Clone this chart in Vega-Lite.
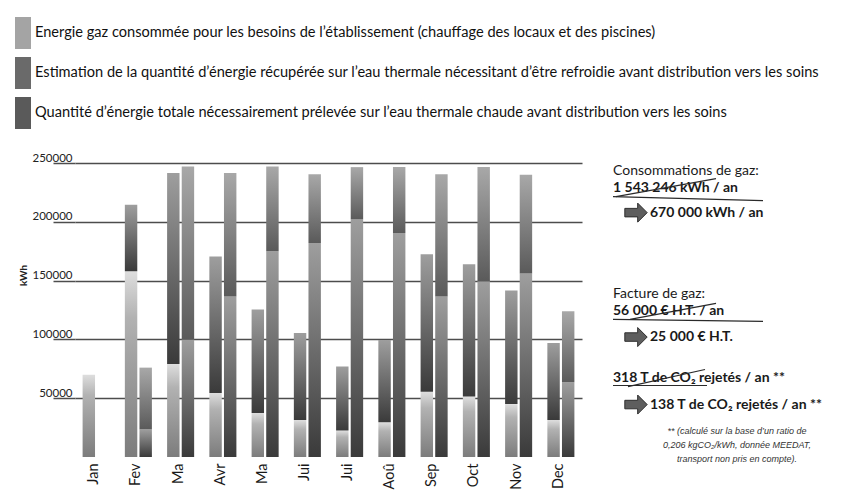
{
  "$schema": "https://vega.github.io/schema/vega-lite/v6.json",
  "width": 507,
  "height": 294,
  "autosize": {"type": "none"},
  "padding": {"left": 75, "top": 163, "right": 277, "bottom": 39},
  "background": "white",
  "config": {
    "view": {"stroke": null},
    "font": "Lato",
    "legend": {
      "orient": "none",
      "legendX": -68,
      "legendY": -146,
      "padding": 0
    }
  },
  "datasets": {
    "energie": [
      {"mois": "01", "colonne": "A", "serie": "gaz", "kWh": 70000},
      {"mois": "02", "colonne": "A", "serie": "gaz", "kWh": 158000},
      {"mois": "02", "colonne": "A", "serie": "recup", "kWh": 56500},
      {"mois": "02", "colonne": "B", "serie": "recup", "kWh": 23500},
      {"mois": "02", "colonne": "B", "serie": "total", "kWh": 52500},
      {"mois": "03", "colonne": "A", "serie": "gaz", "kWh": 79000},
      {"mois": "03", "colonne": "A", "serie": "recup", "kWh": 162500},
      {"mois": "03", "colonne": "B", "serie": "recup", "kWh": 100000},
      {"mois": "03", "colonne": "B", "serie": "total", "kWh": 147000},
      {"mois": "04", "colonne": "A", "serie": "gaz", "kWh": 54500},
      {"mois": "04", "colonne": "A", "serie": "recup", "kWh": 116000},
      {"mois": "04", "colonne": "B", "serie": "recup", "kWh": 136500},
      {"mois": "04", "colonne": "B", "serie": "total", "kWh": 105000},
      {"mois": "05", "colonne": "A", "serie": "gaz", "kWh": 37500},
      {"mois": "05", "colonne": "A", "serie": "recup", "kWh": 88000},
      {"mois": "05", "colonne": "B", "serie": "recup", "kWh": 175000},
      {"mois": "05", "colonne": "B", "serie": "total", "kWh": 72000},
      {"mois": "06", "colonne": "A", "serie": "gaz", "kWh": 31500},
      {"mois": "06", "colonne": "A", "serie": "recup", "kWh": 74000},
      {"mois": "06", "colonne": "B", "serie": "recup", "kWh": 182000},
      {"mois": "06", "colonne": "B", "serie": "total", "kWh": 58500},
      {"mois": "07", "colonne": "A", "serie": "gaz", "kWh": 22500},
      {"mois": "07", "colonne": "A", "serie": "recup", "kWh": 54500},
      {"mois": "07", "colonne": "B", "serie": "recup", "kWh": 202000},
      {"mois": "07", "colonne": "B", "serie": "total", "kWh": 44500},
      {"mois": "08", "colonne": "A", "serie": "gaz", "kWh": 29500},
      {"mois": "08", "colonne": "A", "serie": "recup", "kWh": 70000},
      {"mois": "08", "colonne": "B", "serie": "recup", "kWh": 190500},
      {"mois": "08", "colonne": "B", "serie": "total", "kWh": 56000},
      {"mois": "09", "colonne": "A", "serie": "gaz", "kWh": 55500},
      {"mois": "09", "colonne": "A", "serie": "recup", "kWh": 117000},
      {"mois": "09", "colonne": "B", "serie": "recup", "kWh": 136500},
      {"mois": "09", "colonne": "B", "serie": "total", "kWh": 104000},
      {"mois": "10", "colonne": "A", "serie": "gaz", "kWh": 51500},
      {"mois": "10", "colonne": "A", "serie": "recup", "kWh": 112500},
      {"mois": "10", "colonne": "B", "serie": "recup", "kWh": 149500},
      {"mois": "10", "colonne": "B", "serie": "total", "kWh": 97000},
      {"mois": "11", "colonne": "A", "serie": "gaz", "kWh": 45000},
      {"mois": "11", "colonne": "A", "serie": "recup", "kWh": 96500},
      {"mois": "11", "colonne": "B", "serie": "recup", "kWh": 156000},
      {"mois": "11", "colonne": "B", "serie": "total", "kWh": 84000},
      {"mois": "12", "colonne": "A", "serie": "gaz", "kWh": 31500},
      {"mois": "12", "colonne": "A", "serie": "recup", "kWh": 65500},
      {"mois": "12", "colonne": "B", "serie": "recup", "kWh": 63500},
      {"mois": "12", "colonne": "B", "serie": "total", "kWh": 60500}
    ]
  },
  "layer": [
    {
      "data": {"name": "energie"},
      "transform": [
        {"stack": "kWh", "groupby": ["mois", "colonne"], "sort": [{"field": "serie", "order": "ascending"}], "as": ["bas", "haut"]}
      ],
      "encoding": {
        "x": {
          "field": "mois",
          "type": "nominal",
          "scale": {"paddingInner": 0.36, "paddingOuter": 0.18},
          "axis": {
            "title": null,
            "labelAngle": -90,
            "labelExpr": "['Jan','Fev','Ma','Avr','Ma','Jui','Jui','Aoû','Sep','Oct','Nov','Dec'][toNumber(datum.value) - 1]",
            "labelFont": "Lato",
            "labelFontSize": 14.5,
            "labelColor": "#1a1a1a",
            "labelPadding": 6,
            "labelOffset": -2,
            "ticks": false,
            "domain": false
          }
        },
        "xOffset": {
          "field": "colonne",
          "type": "nominal",
          "scale": {"domain": ["A", "B"], "paddingInner": 0.15}
        },
        "y": {
          "field": "bas",
          "type": "quantitative",
          "scale": {"domain": [0, 250000], "nice": false},
          "axis": {
            "title": "kWh",
            "titleFont": "Lato",
            "titleFontSize": 10,
            "titleFontWeight": "bold",
            "titleColor": "#222222",
            "titleX": -52,
            "titleY": 112,
            "titleAngle": 270,
            "titleAlign": "center",
            "titleBaseline": "middle",
            "values": [50000, 100000, 150000, 200000, 250000],
            "format": "d",
            "grid": true,
            "gridColor": "#4d4d4d",
            "gridWidth": 1.5,
            "ticks": true,
            "tickSize": 22,
            "tickColor": "#4d4d4d",
            "tickWidth": 1.5,
            "domain": false,
            "labelFont": "Lato",
            "labelFontSize": 11.5,
            "labelColor": "#222222",
            "labelAlign": "right",
            "labelBaseline": "bottom",
            "labelPadding": -19
          }
        },
        "y2": {"field": "haut"}
      },
      "layer": [
        {
          "transform": [{"filter": "datum.serie === 'gaz'"}],
          "mark": {"type": "bar", "color": {"gradient": "linear", "x1": 0, "y1": 0, "x2": 0, "y2": 1,
            "stops": [{"offset": 0, "color": "#dedede"}, {"offset": 0.25, "color": "#b2b2b2"}, {"offset": 1, "color": "#7c7c7c"}]}}
        },
        {
          "transform": [{"filter": "datum.serie === 'recup'"}],
          "mark": {"type": "bar", "color": {"gradient": "linear", "x1": 0, "y1": 0, "x2": 0, "y2": 1,
            "stops": [{"offset": 0, "color": "#9e9e9e"}, {"offset": 1, "color": "#3a3a3a"}]}}
        },
        {
          "transform": [{"filter": "datum.serie === 'total'"}],
          "mark": {"type": "bar", "color": {"gradient": "linear", "x1": 0, "y1": 0, "x2": 0, "y2": 1,
            "stops": [{"offset": 0, "color": "#a8a8a8"}, {"offset": 1, "color": "#5a5a5a"}]}}
        },
        {
          "transform": [{"filter": "datum.kWh < 0"}],
          "mark": {"type": "bar"},
          "encoding": {
            "color": {
              "field": "serie",
              "type": "nominal",
              "scale": {"domain": ["gaz", "recup", "total"], "range": ["#a4a4a4", "#6a6a6a", "#5a5a5a"]},
              "legend": {
                "title": null,
                "direction": "vertical",
                "symbolType": "M-0.5,-1L0.5,-1L0.5,1L-0.5,1Z",
                "symbolSize": 1024,
                "symbolStrokeWidth": 0,
                "rowPadding": 8,
                "labelFont": "Lato",
                "labelFontSize": 14.6,
                "labelColor": "#111111",
                "labelLimit": 900,
                "labelOffset": -4,
                "labelExpr": "datum.label == 'gaz' ? 'Energie gaz consommée pour les besoins de l’établissement (chauffage des locaux et des piscines)' : datum.label == 'recup' ? 'Estimation de la quantité d’énergie récupérée sur l’eau thermale nécessitant d’être refroidie avant distribution vers les soins' : 'Quantité d’énergie totale nécessairement prélevée sur l’eau thermale chaude avant distribution vers les soins'"
              }
            }
          }
        }
      ]
    },
    {
      "data": {"values": [{}]},
      "mark": {"type": "text", "align": "left", "baseline": "middle", "dx": 31, "font": "Lato", "fontSize": 14, "color": "#1a1a1a"},
      "encoding": {"x": {"value": "width"}, "y": {"datum": 243500, "type": "quantitative"}, "text": {"value": "Consommations de gaz:"}}
    },
    {
      "data": {"values": [{}]},
      "mark": {"type": "text", "align": "left", "baseline": "middle", "dx": 31, "font": "Lato", "fontSize": 14, "fontWeight": "bold", "color": "#1a1a1a"},
      "encoding": {"x": {"value": "width"}, "y": {"datum": 229000, "type": "quantitative"}, "text": {"value": "1 543 246 kWh / an"}}
    },
    {
      "data": {"values": [{}]},
      "mark": {"type": "text", "align": "left", "baseline": "middle", "dx": 68, "font": "Lato", "fontSize": 14, "fontWeight": "bold", "color": "#1a1a1a"},
      "encoding": {"x": {"value": "width"}, "y": {"datum": 207800, "type": "quantitative"}, "text": {"value": "670 000 kWh / an"}}
    },
    {
      "data": {"values": [{}]},
      "mark": {"type": "text", "align": "left", "baseline": "middle", "dx": 31, "font": "Lato", "fontSize": 14, "color": "#1a1a1a"},
      "encoding": {"x": {"value": "width"}, "y": {"datum": 139000, "type": "quantitative"}, "text": {"value": "Facture de gaz:"}}
    },
    {
      "data": {"values": [{}]},
      "mark": {"type": "text", "align": "left", "baseline": "middle", "dx": 31, "font": "Lato", "fontSize": 14, "fontWeight": "bold", "color": "#1a1a1a"},
      "encoding": {"x": {"value": "width"}, "y": {"datum": 124000, "type": "quantitative"}, "text": {"value": "56 000 € H.T. / an"}}
    },
    {
      "data": {"values": [{}]},
      "mark": {"type": "text", "align": "left", "baseline": "middle", "dx": 68, "font": "Lato", "fontSize": 14, "fontWeight": "bold", "color": "#1a1a1a"},
      "encoding": {"x": {"value": "width"}, "y": {"datum": 102000, "type": "quantitative"}, "text": {"value": "25 000 € H.T."}}
    },
    {
      "data": {"values": [{}]},
      "mark": {"type": "text", "align": "left", "baseline": "middle", "dx": 31, "font": "Lato", "fontSize": 14, "fontWeight": "bold", "color": "#1a1a1a"},
      "encoding": {"x": {"value": "width"}, "y": {"datum": 67600, "type": "quantitative"}, "text": {"value": "318 T de CO₂ rejetés / an **"}}
    },
    {
      "data": {"values": [{}]},
      "mark": {"type": "text", "align": "left", "baseline": "middle", "dx": 68, "font": "Lato", "fontSize": 14, "fontWeight": "bold", "color": "#1a1a1a"},
      "encoding": {"x": {"value": "width"}, "y": {"datum": 44600, "type": "quantitative"}, "text": {"value": "138 T de CO₂ rejetés / an **"}}
    },
    {
      "data": {"values": [{}]},
      "mark": {"type": "text", "align": "center", "baseline": "top", "dx": 155, "font": "Liberation Sans", "fontSize": 9, "fontStyle": "italic", "lineHeight": 14, "color": "#333333"},
      "encoding": {"x": {"value": "width"}, "y": {"datum": 25500, "type": "quantitative"}, "text": {"value": ["** (calculé sur la base d’un ratio de", "0,206 kgCO₂/kWh, donnée MEEDAT,", "transport non pris en compte)."]}}
    },
    {
      "data": {"values": [{}]},
      "mark": {"type": "point", "shape": "M-1,-0.38L0.15,-0.38L0.15,-0.85L1,0L0.15,0.85L0.15,0.38L-1,0.38Z", "size": 500, "filled": true, "fill": "#5e5e5e", "stroke": "#2e2e2e", "strokeWidth": 1, "opacity": 1},
      "encoding": {"x": {"value": {"expr": "width + 54"}}, "y": {"datum": 207800, "type": "quantitative"}}
    },
    {
      "data": {"values": [{}]},
      "mark": {"type": "point", "shape": "M-1,-0.38L0.15,-0.38L0.15,-0.85L1,0L0.15,0.85L0.15,0.38L-1,0.38Z", "size": 500, "filled": true, "fill": "#5e5e5e", "stroke": "#2e2e2e", "strokeWidth": 1, "opacity": 1},
      "encoding": {"x": {"value": {"expr": "width + 54"}}, "y": {"datum": 102000, "type": "quantitative"}}
    },
    {
      "data": {"values": [{}]},
      "mark": {"type": "point", "shape": "M-1,-0.38L0.15,-0.38L0.15,-0.85L1,0L0.15,0.85L0.15,0.38L-1,0.38Z", "size": 500, "filled": true, "fill": "#5e5e5e", "stroke": "#2e2e2e", "strokeWidth": 1, "opacity": 1},
      "encoding": {"x": {"value": {"expr": "width + 54"}}, "y": {"datum": 44600, "type": "quantitative"}}
    },
    {
      "data": {"values": [{}]},
      "mark": {"type": "rule", "color": "#2a2a2a", "strokeWidth": 1.2},
      "encoding": {"x": {"value": {"expr": "width + 31"}}, "x2": {"value": {"expr": "width + 181"}}, "y": {"datum": 221400, "type": "quantitative"}, "y2": {"datum": 218000}}
    },
    {
      "data": {"values": [{}]},
      "mark": {"type": "rule", "color": "#2a2a2a", "strokeWidth": 1.2},
      "encoding": {"x": {"value": {"expr": "width + 34"}}, "x2": {"value": {"expr": "width + 134"}}, "y": {"datum": 221400, "type": "quantitative"}, "y2": {"datum": 236700}}
    },
    {
      "data": {"values": [{}]},
      "mark": {"type": "rule", "color": "#2a2a2a", "strokeWidth": 1.2},
      "encoding": {"x": {"value": {"expr": "width + 31"}}, "x2": {"value": {"expr": "width + 181"}}, "y": {"datum": 117000, "type": "quantitative"}, "y2": {"datum": 115400}}
    },
    {
      "data": {"values": [{}]},
      "mark": {"type": "rule", "color": "#2a2a2a", "strokeWidth": 1.2},
      "encoding": {"x": {"value": {"expr": "width + 48"}}, "x2": {"value": {"expr": "width + 134"}}, "y": {"datum": 117000, "type": "quantitative"}, "y2": {"datum": 130600}}
    },
    {
      "data": {"values": [{}]},
      "mark": {"type": "rule", "color": "#2a2a2a", "strokeWidth": 1.2},
      "encoding": {"x": {"value": {"expr": "width + 31"}}, "x2": {"value": {"expr": "width + 125"}}, "y": {"datum": 60800, "type": "quantitative"}, "y2": {"datum": 60800}}
    },
    {
      "data": {"values": [{}]},
      "mark": {"type": "rule", "color": "#2a2a2a", "strokeWidth": 1.2},
      "encoding": {"x": {"value": {"expr": "width + 46"}}, "x2": {"value": {"expr": "width + 123"}}, "y": {"datum": 59900, "type": "quantitative"}, "y2": {"datum": 74400}}
    }
  ]
}
